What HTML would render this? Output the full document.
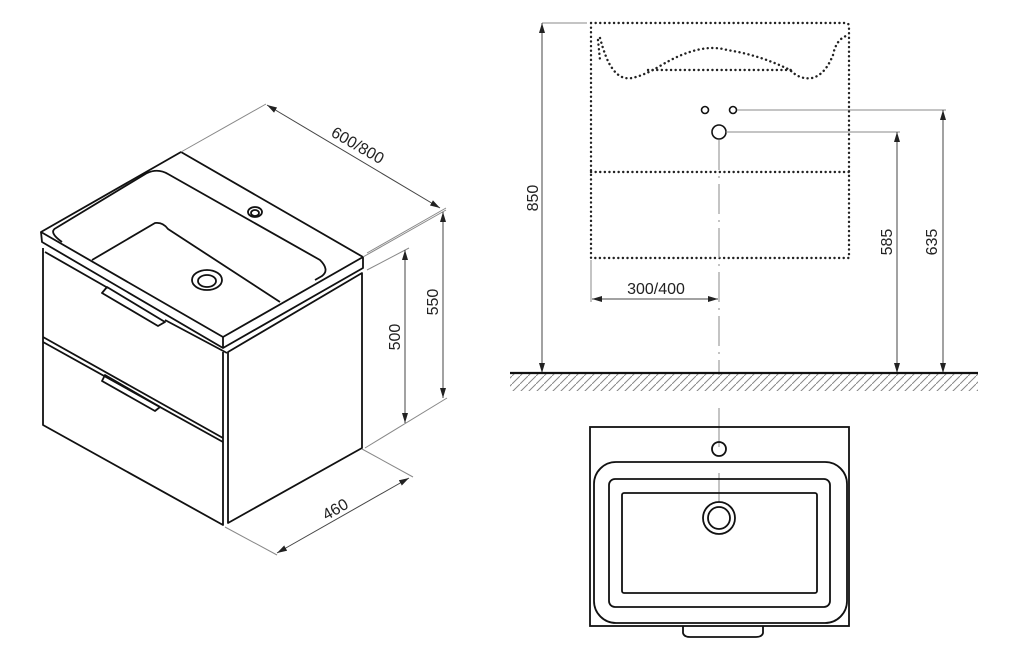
<!DOCTYPE html>
<html><head><meta charset="utf-8"><style>html,body{margin:0;padding:0;background:#fff}svg{display:block}text{font-family:"Liberation Sans",sans-serif;fill:#222}</style></head>
<body>
<svg width="1024" height="661" viewBox="0 0 1024 661" xmlns="http://www.w3.org/2000/svg">
<defs>
<marker id="a" viewBox="0 0 10 6" refX="10" refY="3" markerWidth="10" markerHeight="6" orient="auto-start-reverse" markerUnits="userSpaceOnUse"><path d="M0,0 L10,3 L0,6 z" fill="#222"/></marker>
<pattern id="h" width="8" height="8" patternUnits="userSpaceOnUse"><path d="M0,8 L8,0" stroke="#888" stroke-width="1"/></pattern>
</defs>
<g fill="none" stroke="#111" stroke-width="1.8" stroke-linejoin="round">
<path d="M181,152 L41,232 L223,337 L363,257 Z" fill="#fff"/>
<path d="M41,232 L42,242 L223,348 L363,268 L363,257"/>
<path d="M223,337 L223,348"/>
<path d="M62,242 Q48,232 56,228 L147,173 Q158,168 168,174 L320,260 Q330,270 322,276 L315,280"/>
<path d="M92,260 L155,223 Q163,222 168,229 L280,302"/>
<ellipse cx="207" cy="280" rx="15" ry="10"/>
<ellipse cx="207" cy="281" rx="9" ry="6"/>
<ellipse cx="255" cy="212" rx="7" ry="5"/>
<ellipse cx="255" cy="213" rx="4" ry="3"/>
<path d="M43,248 L43,425 L223,525 L223,352"/>
<path d="M228,352 L228,523 L362,448 L362,273 Z"/>
<path d="M45,252 L108,288 M165,320 L227,353"/>
<path d="M107,287 L102,293 L158,326 L165,322 Z"/>
<path d="M43,337 L223,438"/>
<path d="M43,342 L223,442"/>
<path d="M105,375 L102,381 L155,411 L160,407 Z"/>
<path d="M105,376 L160,407"/>
</g>
<g stroke="#888" stroke-width="1" fill="none">
<path d="M181,152 L266,104"/>
<path d="M363,257 L446,210"/>
<path d="M367,253 L446,208"/>
<path d="M367,270 L409,248"/>
<path d="M365,448 L447,398"/>
<path d="M362,449 L413,477"/>
<path d="M225,527 L277,555"/>
</g>
<g stroke="#444" stroke-width="1" fill="none">
<path d="M267,105 L440,208" marker-start="url(#a)" marker-end="url(#a)"/>
<path d="M443,212 L443,398" marker-start="url(#a)" marker-end="url(#a)"/>
<path d="M405,250 L405,423" marker-start="url(#a)" marker-end="url(#a)"/>
<path d="M277,553 L409,478" marker-start="url(#a)" marker-end="url(#a)"/>
</g>
<text x="355" y="150" font-size="16" text-anchor="middle" transform="rotate(30 355 150)">600/800</text>
<text x="438" y="302" font-size="16" text-anchor="middle" transform="rotate(-90 438 302)">550</text>
<text x="400" y="337" font-size="16" text-anchor="middle" transform="rotate(-90 400 337)">500</text>
<text x="338" y="514" font-size="16" text-anchor="middle" transform="rotate(-30 338 514)">460</text>
<g fill="none" stroke="#222" stroke-width="2.4" stroke-dasharray="0.1 4.5" stroke-linecap="round">
<path d="M591,23 L846,23 Q849,23 849,27 L849,258 L591,258 Z"/>
<path d="M591,172 L849,172"/>
<path d="M600,38 Q606,60 612,68 Q620,80 632,78 Q645,75 660,66 Q700,42 727,50 Q760,55 790,70 Q800,80 812,78 Q825,75 833,55 Q836,40 846,36"/>
<path d="M648,70 L792,70"/>
<path d="M598,40 L600,60"/>
</g>
<g fill="none" stroke="#111" stroke-width="1.6">
<circle cx="705" cy="110" r="3.5"/>
<circle cx="733" cy="110" r="3.5"/>
<circle cx="719" cy="132" r="7"/>
</g>
<g stroke="#888" stroke-width="1" fill="none">
<path d="M737,110 L946,110"/>
<path d="M726,132 L900,132"/>
<path d="M542,23 L587,23"/>
<path d="M591,260 L591,302"/>
<path d="M719,140 L719,375" stroke-dasharray="30 6 2 6"/>
<path d="M719,408 L719,447"/>
<path d="M719,473 L719,502"/>
</g>
<g stroke="#444" stroke-width="1" fill="none">
<path d="M542,23 L542,373" marker-start="url(#a)" marker-end="url(#a)"/>
<path d="M943,110 L943,373" marker-start="url(#a)" marker-end="url(#a)"/>
<path d="M897,132 L897,373" marker-start="url(#a)" marker-end="url(#a)"/>
<path d="M592,299 L718,299" marker-start="url(#a)" marker-end="url(#a)"/>
</g>
<rect x="510" y="374" width="468" height="17" fill="url(#h)"/>
<path d="M510,373 L978,373" stroke="#111" stroke-width="2.2"/>
<text x="538" y="198" font-size="16" text-anchor="middle" transform="rotate(-90 538 198)">850</text>
<text x="892" y="242" font-size="16" text-anchor="middle" transform="rotate(-90 892 242)">585</text>
<text x="937" y="242" font-size="16" text-anchor="middle" transform="rotate(-90 937 242)">635</text>
<text x="656" y="294" font-size="16" text-anchor="middle">300/400</text>
<g fill="none" stroke="#111" stroke-width="1.8">
<rect x="590" y="427" width="259" height="199"/>
<rect x="594" y="462" width="253" height="161" rx="22"/>
<rect x="609" y="479" width="221" height="128" rx="6"/>
<rect x="622" y="493" width="195" height="100" rx="2"/>
<circle cx="719" cy="449" r="7"/>
<circle cx="719" cy="518" r="16"/>
<circle cx="719" cy="518" r="11"/>
<path d="M683,626 L683,633 Q684,637 690,637 L756,637 Q762,637 763,633 L763,626"/>
</g>
</svg>
</body></html>
